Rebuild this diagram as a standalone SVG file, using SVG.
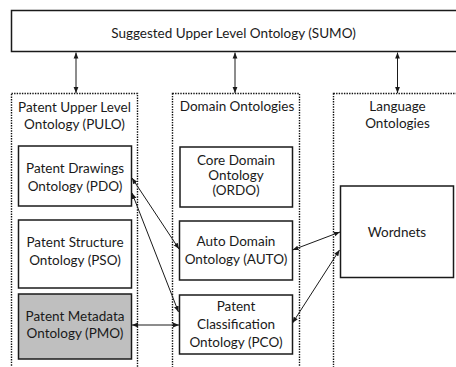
<svg xmlns="http://www.w3.org/2000/svg" width="456" height="367" viewBox="0 0 456 367">
  <style>
    text { font-family: Lato, "Open Sans", "Liberation Sans", sans-serif; font-size: 13.5px; fill: #1a1a1a; text-anchor: middle; }
    .box { fill: #ffffff; stroke: #1a1a1a; stroke-width: 1.5; }
    .grey { fill: #bfbfbf; }
    .group { fill: none; stroke: #111111; stroke-width: 1.4; stroke-dasharray: 1.4 1.2; }
    .link { fill: none; stroke: #1a1a1a; stroke-width: 1; marker-start: url(#head); marker-end: url(#head); }
  </style>
  <defs>
    <marker id="head" viewBox="0 0 10 10" refX="10" refY="5" markerWidth="6" markerHeight="6" orient="auto-start-reverse" markerUnits="userSpaceOnUse">
      <path d="M0,1 L10,5 L0,9 Z" fill="#1a1a1a"/>
    </marker>
  </defs>
  <rect width="456" height="367" fill="#ffffff"/>

  <!-- top-level ontology -->
  <g id="sumo">
    <rect class="box" x="11.5" y="10.5" width="450" height="41"/>
    <text x="233.5" y="37.5">Suggested Upper Level Ontology (SUMO)</text>
  </g>

  <!-- dotted grouping columns -->
  <g id="pulo">
    <rect class="group" x="11.5" y="93.5" width="126" height="300"/>
    <text x="74.5" y="112">Patent Upper Level</text>
    <text x="74.5" y="128.5">Ontology (PULO)</text>
  </g>
  <g id="domain">
    <rect class="group" x="172.5" y="93.5" width="127" height="300"/>
    <text x="237" y="110.5">Domain Ontologies</text>
  </g>
  <g id="language">
    <rect class="group" x="333.5" y="93.5" width="140" height="300"/>
    <text x="397.5" y="111">Language</text>
    <text x="397.5" y="128">Ontologies</text>
  </g>

  <!-- ontology boxes -->
  <g id="pdo">
    <rect class="box" x="18.5" y="146" width="113" height="60"/>
    <text x="75" y="173">Patent Drawings</text>
    <text x="75" y="191">Ontology (PDO)</text>
  </g>
  <g id="pso">
    <rect class="box" x="18.5" y="220" width="113" height="68"/>
    <text x="75" y="246.5">Patent Structure</text>
    <text x="75" y="264.5">Ontology (PSO)</text>
  </g>
  <g id="pmo">
    <rect class="box grey" x="18.5" y="294" width="113" height="65"/>
    <text x="75" y="321">Patent Metadata</text>
    <text x="75" y="338">Ontology (PMO)</text>
  </g>
  <g id="ordo">
    <rect class="box" x="180" y="147" width="112.5" height="60"/>
    <text x="236" y="165">Core Domain</text>
    <text x="236" y="180">Ontology</text>
    <text x="236" y="195">(ORDO)</text>
  </g>
  <g id="auto">
    <rect class="box" x="179.5" y="221" width="113" height="59"/>
    <text x="236" y="246">Auto Domain</text>
    <text x="236" y="264">Ontology (AUTO)</text>
  </g>
  <g id="pco">
    <rect class="box" x="179.5" y="295" width="113" height="59"/>
    <text x="236" y="311">Patent</text>
    <text x="236" y="329">Classification</text>
    <text x="236" y="347">Ontology (PCO)</text>
  </g>
  <g id="wordnets">
    <rect class="box" x="340.5" y="186" width="113" height="91.5"/>
    <text x="397" y="237">Wordnets</text>
  </g>

  <!-- connectors -->
  <g id="connectors">
    <line class="link" x1="76" y1="52.5" x2="76" y2="93"/>
    <line class="link" x1="235" y1="52.5" x2="235" y2="93"/>
    <line class="link" x1="397.5" y1="52.5" x2="397.5" y2="93"/>
    <line class="link" x1="132" y1="178" x2="179" y2="249"/>
    <line class="link" x1="132" y1="193" x2="178.5" y2="312"/>
    <line class="link" x1="132" y1="325" x2="179" y2="325"/>
    <line class="link" x1="292.5" y1="250" x2="340" y2="232"/>
    <line class="link" x1="292.5" y1="323" x2="339.5" y2="250"/>
  </g>
</svg>
